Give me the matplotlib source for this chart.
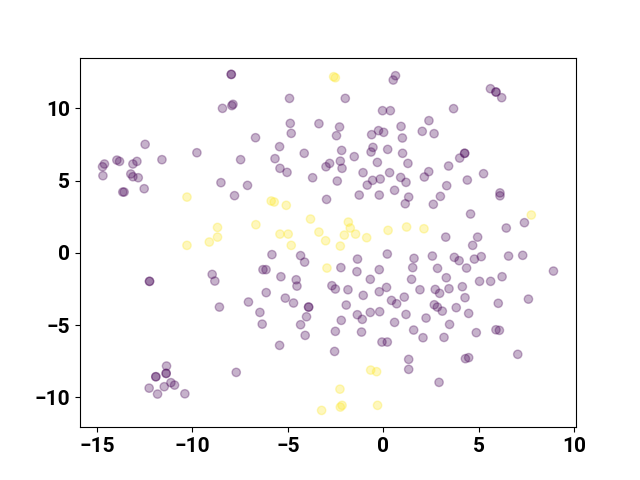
import numpy as np
import matplotlib
matplotlib.use("Agg")
import matplotlib.pyplot as plt

plt.rcParams["font.family"] = ["Roboto", "DejaVu Sans"]
plt.rcParams["font.weight"] = "bold"
plt.rcParams["font.size"] = 15

# class 0 (purple)
x_purple = [
    -7.96, -7.96, -8.42, -7.87, -7.93, -12.47, -9.76, -11.59, -7.47, -13.95,
    -13.81, -12.90, -13.11, -14.60, -14.70, -14.68, -13.22, -13.11, -12.83, -8.50,
    -7.11, -13.64, -13.57, -12.52, -7.79, -8.96, -8.82, -12.24, -12.24, -8.58,
    -7.06, -11.35, -11.37, -11.37, -11.91, -11.91, -11.12, -10.93, -11.47, -12.26,
    -11.82, -10.39, -7.70,
    0.64, 0.52, -4.91, -1.99, -0.04, 0.37, -4.87, -3.37, -2.29, -4.82,
    -2.45, 0.93, -0.25, 0.02, -0.61, 1.00, -6.69, -5.43, -5.67, -4.14,
    -2.18, -0.54, -0.64, 0.23, 1.01, -1.52, -0.31, -2.25, -2.81, -3.00,
    -2.16, -5.41, -5.04, 1.29, -1.06, -3.70, -2.41, 0.33, 0.91, -0.56,
    -0.84, -0.16, 1.19,
    5.61, 5.90, 5.90, 6.20, 3.68, 2.39, 2.04, 2.66, 4.26, 4.26,
    4.00, 3.42, 2.38, 2.15, 5.25, 4.40, 3.32,
    0.59, -2.97, -1.26, -0.21, 1.15, 1.33, -5.83, -4.33, -4.12, -1.35,
    0.21, -6.30, -6.14, -5.36, -2.22, -1.38, -0.21, -4.56, -4.52, -0.68,
    -2.69, -2.51, -1.85, -6.13, -1.05, -0.21, 0.17, -5.13, -4.70, -3.91,
    -3.91, -1.94, 0.43, 0.70, 1.10,
    2.99, 2.62, 6.11, 6.11, 4.57, 7.39, 6.44, 3.27, 4.94, 4.68,
    2.57, 1.61, 3.72, 3.97, 4.77, 5.13, 6.56, 7.30, 1.54, 2.84,
    4.36, 8.91, 1.48, 3.30, 5.04, 5.62, 6.22, 4.14, 1.92, 2.72,
    2.95, 3.44, 4.28, 7.60, 6.02, 2.67, 2.83,
    -4.02, -6.46, -6.34, -4.33, -4.09, -5.43, -2.20, -2.51, -2.55, -1.36,
    -1.10, -0.68, -0.19, -1.14, -0.07, 0.21, 1.19, 0.59, 1.33, 1.33,
    3.09, 3.82, 4.47, 2.24, 3.47, 1.59, 2.08, 3.18, 4.87, 5.90,
    6.08, 7.04, 4.30, 4.47, 2.92,
]
y_purple = [
    12.35, 12.35, 10.00, 10.28, 10.19, 7.51, 6.93, 6.45, 6.45, 6.42,
    6.33, 6.33, 6.15, 6.15, 5.96, 5.34, 5.46, 5.27, 5.20, 4.86,
    4.67, 4.21, 4.21, 4.44, 3.96, -1.49, -1.95, -1.97, -1.97, -3.75,
    -3.40, -7.83, -8.34, -8.34, -8.57, -8.57, -8.98, -9.15, -9.26, -9.36,
    -9.77, -9.75, -8.27,
    12.26, 11.96, 10.69, 10.69, 9.84, 9.84, 8.96, 8.94, 8.71, 8.27,
    8.11, 8.75, 8.46, 8.34, 8.18, 7.95, 7.97, 7.35, 6.52, 6.89,
    7.09, 7.30, 6.98, 7.16, 6.89, 6.66, 6.26, 6.35, 6.19, 5.96,
    5.85, 5.85, 5.57, 6.19, 5.55, 5.20, 4.97, 5.55, 5.22, 5.02,
    4.69, 5.11, 4.88,
    11.36, 11.13, 11.13, 10.74, 9.98, 9.15, 8.41, 8.25, 6.89, 6.89,
    6.56, 6.01, 5.62, 5.25, 5.48, 5.04, 4.65,
    4.33, 3.70, 4.00, 4.00, 3.40, 3.86, -0.12, -0.19, -0.64, -0.43,
    -0.08, -1.16, -1.16, -1.65, -1.02, -1.30, -1.16, -1.86, -2.30, -1.83,
    -2.27, -2.50, -2.55, -2.75, -2.94, -2.69, -2.39, -3.13, -3.47, -3.75,
    -3.75, -3.61, -3.29, -3.52, -3.06,
    3.91, 3.36, 4.15, 3.95, 2.69, 2.09, 1.72, 1.09, 1.09, 0.52,
    -0.22, -0.38, -0.31, -0.54, -0.43, -0.26, -0.22, -0.17, -1.02, -1.07,
    -1.05, -1.26, -1.83, -1.72, -1.97, -1.97, -1.65, -2.34, -2.55, -2.53,
    -2.80, -2.48, -3.10, -3.20, -3.49, -3.59, -3.75,
    -4.42, -4.12, -4.93, -4.97, -5.71, -6.40, -4.67, -5.43, -6.82, -4.28,
    -4.60, -4.12, -4.07, -5.48, -6.17, -6.17, -4.26, -4.81, -7.37, -8.06,
    -4.03, -3.79, -4.19, -4.51, -4.95, -5.34, -5.87, -5.85, -5.52, -5.32,
    -5.36, -7.02, -7.32, -7.25, -8.96,
]

# class 1 (yellow)
x_yellow = [
    -2.60, -2.51, -10.28, -8.68, -8.68, -9.11, -10.28, -5.87, -5.71, -5.08,
    -6.67, -3.81, -5.41, -4.98, -4.82, -3.37, -3.02, -1.83, -1.73, -2.04,
    -1.45, -2.25, -0.87, 0.25, 1.22, 2.13, 7.75, -2.95, -0.66, -0.35,
    -2.27, -2.16, -2.25, -3.23, -0.30,
]
y_yellow = [
    12.19, 12.12, 3.86, 1.76, 1.09, 0.75, 0.52, 3.59, 3.52, 3.29,
    1.95, 2.34, 1.30, 1.30, 0.52, 1.44, 0.84, 2.13, 1.72, 1.23,
    1.30, 0.47, 1.05, 1.56, 1.79, 1.67, 2.62, -1.05, -8.11, -8.22,
    -9.43, -10.55, -10.67, -10.90, -10.55,
]

x = np.array(x_purple + x_yellow)
y = np.array(y_purple + y_yellow)
labels = np.array([0] * len(x_purple) + [1] * len(x_yellow))

fig, ax = plt.subplots(figsize=(6.4, 4.8), dpi=100)
ax.scatter(x, y, c=labels, cmap="viridis", alpha=0.3)

fig.savefig("out.png")
